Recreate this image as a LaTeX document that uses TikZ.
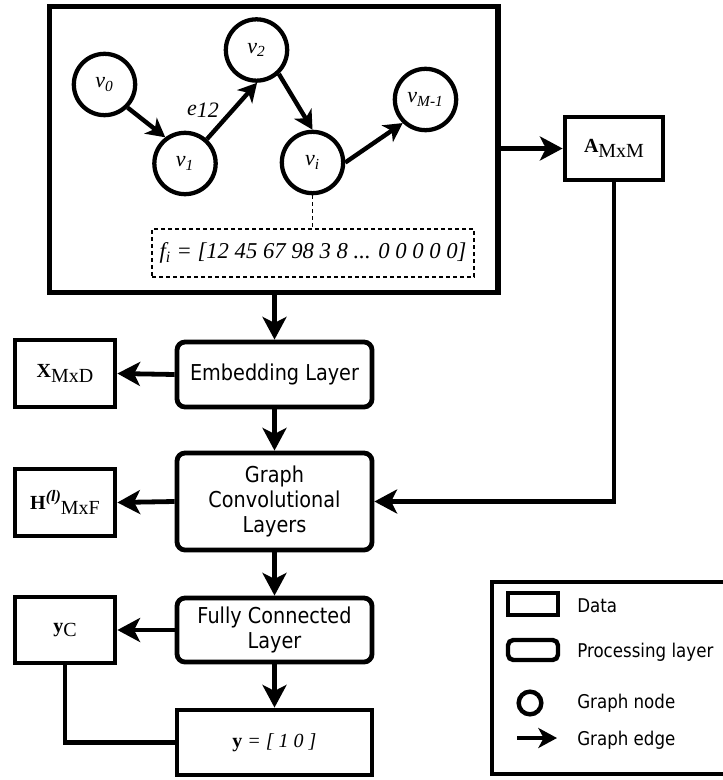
\documentclass[tikz,border=0pt]{standalone}
\usepackage{fontspec}
\setmainfont{Liberation Serif}
\newfontfamily\boxfont[FakeStretch=0.88]{DejaVu Sans}
\usetikzlibrary{arrows.meta}
\begin{document}
\begin{tikzpicture}[x=0.75pt,y=-0.75pt,
  arr/.style={line width=3.6pt,-{Stealth[length=17pt,width=18pt,inset=4.5pt]}},
  garr/.style={line width=3.3pt,-{Stealth[length=14pt,width=15pt,inset=4pt]}},
  conn/.style={line width=3.6pt},
  proc/.style={draw,line width=3.6pt,rounded corners=6pt,align=center,inner sep=0pt,
    minimum width=146.25pt,font=\boxfont\fontsize{16.4pt}{18.75pt}\selectfont},
  databox/.style={draw,line width=3.6pt,inner sep=0pt,align=center,
    font=\fontsize{15pt}{17pt}\selectfont},
  gnode/.style={draw,circle,line width=3.2pt,minimum size=46pt,inner sep=0pt,
    font=\fontsize{16.5pt}{18pt}\selectfont\itshape},
  legtext/.style={anchor=west,inner sep=0pt,font=\boxfont\fontsize{14.2pt}{16pt}\selectfont},
  gtext/.style={inner sep=0pt,font=\fontsize{16.5pt}{18pt}\selectfont\itshape}
]
\useasboundingbox (0,0) rectangle (723,780);

% main graph box
\node[draw,line width=4.2pt,minimum width=336.4pt,minimum height=214.5pt,inner sep=0pt] (main) at (273.75,149.5) {};

% graph nodes
\node[gnode] (v0) at (104.5,84.5) {v\textsubscript{0}};
\node[gnode] (v1) at (185,163.5) {v\textsubscript{1}};
\node[gnode] (v2) at (256.5,50) {v\textsubscript{2}};
\node[gnode] (vi) at (312.5,162.5) {v\textsubscript{i}};
\node[gnode] (vm) at (425.5,99.5) {v\textsubscript{M-1}};
\draw[garr] (v0.-45) -- (v1.127);
\draw[garr] (v1.48) -- (v2.-89);
\draw[garr] (v2.-47) -- (vi.90);
\draw[garr] (vi.0) -- (vm.-134);
\node[gtext] (e12) at (203,110) {e\raisebox{-1.5pt}{12}};

% feature vector box
\node[draw,dash pattern=on 3pt off 2.25pt,line width=0.9pt,minimum width=241.5pt,minimum height=36pt,inner sep=0pt,
  font=\fontsize{17pt}{20pt}\selectfont\itshape] (fb) at (313,253) {f\textsubscript{i} = [12 45 67 98 3 8 ... 0 0 0 0 0]};
\draw[dash pattern=on 3pt off 2.25pt,line width=0.9pt] (vi.south) -- (vi.south |- fb.north);

% adjacency
\node[databox,minimum width=73.5pt,minimum height=47.25pt] (A) at (614,148.5) {\textbf{A}\raisebox{-0.25em}{MxM}};

% processing layers
\node[proc,minimum height=48.75pt] (emb) at (274.5,374.5) {Embedding Layer};
\node[proc,minimum height=72.75pt] (gc) at (274.5,501.5) {Graph\\Convolutional\\Layers};
\node[proc,minimum height=48pt] (fc) at (274.5,630) {Fully Connected\\Layer};
\node[databox,minimum width=146.25pt,minimum height=48.75pt] (yout) at (274.5,742.5) {\textbf{y} \textit{= [ 1 0 ]}};

% data boxes
\node[databox,minimum width=75pt,minimum height=50.25pt] (X) at (65,373.5) {\textbf{X}\raisebox{-0.25em}{MxD}};
\node[databox,minimum width=75pt,minimum height=50.25pt] (H) at (65,502.5) {\textbf{H}\raisebox{0.4em}{\fontsize{12pt}{12pt}\selectfont\bfseries\itshape (l)}\raisebox{-0.25em}{MxF}};
\node[databox,minimum width=75pt,minimum height=49.5pt] (yc) at (65,630) {\textbf{y}\raisebox{-0.2em}{C}};

% connectors
\draw[arr] (emb.north |- main.south) -- (emb.north);
\draw[arr] (main.east |- A.west) -- (A.west);
\draw[arr] (A.south) |- (gc.east);
\draw[arr] (emb.west) -- (X.east);
\draw[arr] (emb.south) -- (gc.north);
\draw[arr] (gc.west) -- (H.east);
\draw[arr] (gc.south) -- (fc.north);
\draw[arr] (fc.west) -- (yc.east);
\draw[arr] (fc.south) -- (yout.north);
\draw[conn] (yc.south) |- (yout.west);

% legend
\draw[line width=3.6pt] (492,582) rectangle (740,774);
\node[draw,line width=3.3pt,minimum width=37.5pt,minimum height=16.5pt,inner sep=0pt] (ld) at (533,604) {};
\node[legtext] (ldt) at (577,606) {Data};
\node[draw,line width=3.3pt,rounded corners=4pt,minimum width=37.5pt,minimum height=15pt,inner sep=0pt] (lp) at (533,650) {};
\node[legtext] (lpt) at (577,652) {Processing layer};
\node[draw,circle,line width=3.3pt,minimum size=17pt,inner sep=0pt] (lc) at (530,703) {};
\node[legtext] (lct) at (577,703) {Graph node};
\coordinate (ea) at (517,738);
\coordinate (eb) at (557,738);
\draw[garr] (ea) -- (eb);
\node[legtext] (let) at (577,740) {Graph edge};
\end{tikzpicture}
\end{document}
